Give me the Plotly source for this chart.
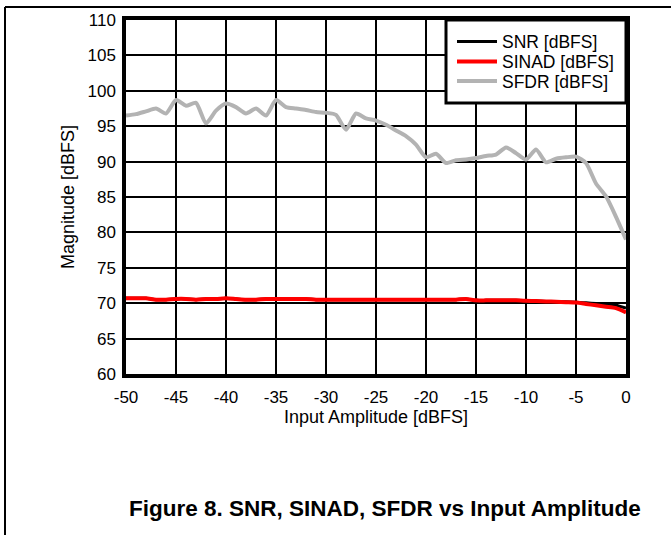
import plotly.graph_objects as go

# ---------------- data ----------------
amp = [-50, -49, -48, -47, -46, -45, -44, -43, -42, -41, -40, -39, -38, -37, -36,
       -35, -34, -33, -32, -31, -30, -29, -28, -27, -26, -25, -24, -23, -22, -21,
       -20, -19, -18, -17, -16, -15, -14, -13, -12, -11, -10, -9, -8, -7, -6,
       -5, -4, -3, -2, -1, 0]

snr = [70.7, 70.7, 70.7, 70.5, 70.5, 70.6, 70.6, 70.5, 70.6, 70.6, 70.7, 70.6, 70.5,
       70.5, 70.6, 70.6, 70.6, 70.6, 70.6, 70.5, 70.5, 70.5, 70.5, 70.5, 70.5, 70.5,
       70.5, 70.5, 70.5, 70.5, 70.5, 70.5, 70.5, 70.5, 70.6, 70.4, 70.4, 70.4, 70.4,
       70.4, 70.35, 70.3, 70.25, 70.2, 70.2, 70.15, 70.05, 69.95, 69.85, 69.7, 69.3]

sinad = [70.7, 70.7, 70.7, 70.5, 70.5, 70.6, 70.6, 70.5, 70.6, 70.6, 70.7, 70.6, 70.5,
         70.5, 70.6, 70.6, 70.6, 70.6, 70.6, 70.5, 70.5, 70.5, 70.5, 70.5, 70.5, 70.5,
         70.5, 70.5, 70.5, 70.5, 70.5, 70.5, 70.5, 70.5, 70.6, 70.4, 70.4, 70.4, 70.4,
         70.4, 70.35, 70.3, 70.25, 70.2, 70.15, 70.1, 69.9, 69.7, 69.5, 69.3, 68.7]

sfdr = [96.5, 96.7, 97.1, 97.5, 96.8, 98.7, 97.9, 98.3, 95.4, 97.2, 98.2, 97.7, 96.8,
        97.5, 96.5, 98.7, 97.7, 97.5, 97.3, 97.0, 96.9, 96.6, 94.5, 96.8, 96.1, 95.8,
        95.2, 94.4, 93.6, 92.4, 90.6, 91.1, 89.8, 90.2, 90.3, 90.5, 90.8, 91.0, 92.0,
        91.2, 90.3, 91.7, 89.9, 90.4, 90.6, 90.7, 89.8, 86.9, 85.1, 82.2, 79.0]

series_names = ["SNR [dBFS]", "SINAD [dBFS]", "SFDR [dBFS]"]
x_ticks = [-50, -45, -40, -35, -30, -25, -20, -15, -10, -5, 0]
y_ticks = [60, 65, 70, 75, 80, 85, 90, 95, 100, 105, 110]

# ---------------- layout geometry (pixels) ----------------
W, H = 671, 535
PL, PR, PT, PB = 126, 626, 20, 374   # plot area edges


def px(xp):
    return (xp - PL) / (PR - PL)


def py(yp):
    return (PB - yp) / (PB - PT)


FONT = "Liberation Sans, Arial, sans-serif"
TICK_SIZE = 17
TITLE_SIZE = 18
LEG_SIZE = 17.5

fig = go.Figure()
fig.add_trace(go.Scatter(x=amp, y=snr, name=series_names[0], mode="lines", legend="legend",
                         line=dict(color="black", width=3, shape="spline", smoothing=0.6)))
fig.add_trace(go.Scatter(x=amp, y=sinad, name=series_names[1], mode="lines", legend="legend2",
                         line=dict(color="#ff0000", width=4, shape="spline", smoothing=0.6)))
fig.add_trace(go.Scatter(x=amp, y=sfdr, name=series_names[2], mode="lines", legend="legend3",
                         line=dict(color="#b3b3b3", width=4, shape="spline", smoothing=0.6)))

axis_common = dict(
    showgrid=True, gridcolor="black", gridwidth=2,
    showline=True, linecolor="black", linewidth=3.5, mirror=True,
    zeroline=False, ticks="", tickfont=dict(family=FONT, size=TICK_SIZE, color="black"),
    title_font=dict(family=FONT, size=TITLE_SIZE, color="black"),
)

fig.update_xaxes(range=[-50, 0], tickvals=x_ticks, ticktext=[str(v) for v in x_ticks],
                 title_text="Input Amplitude [dBFS]", title_standoff=0,
                 ticklabelstandoff=5, **axis_common)
fig.update_yaxes(range=[60, 110], tickvals=y_ticks, ticktext=[str(v) for v in y_ticks],
                 title_text="Magnitude [dBFS]", title_standoff=9,
                 ticklabelstandoff=3, **axis_common)

shapes = [
    # legend frame
    dict(type="rect", xref="paper", yref="paper", x0=px(446), x1=px(626),
         y0=py(103), y1=py(20), line=dict(color="black", width=3),
         fillcolor="white", layer="above"),
    # outer figure frame (top and left)
    dict(type="line", xref="paper", yref="paper", x0=px(5), x1=px(W + 5),
         y0=py(7), y1=py(7), line=dict(color="black", width=2)),
    dict(type="line", xref="paper", yref="paper", x0=px(5), x1=px(5),
         y0=py(7), y1=py(H + 5), line=dict(color="black", width=2)),
]

leg_common = dict(x=px(452), xanchor="left", yanchor="middle",
                  bgcolor="rgba(0,0,0,0)", borderwidth=0,
                  font=dict(family=FONT, size=LEG_SIZE, color="black"),
                  itemwidth=40)

fig.update_layout(
    width=W, height=H,
    margin=dict(l=PL, r=W - PR, t=PT, b=H - PB, pad=0),
    paper_bgcolor="white", plot_bgcolor="white",
    font=dict(family=FONT, size=16, color="black"),
    shapes=shapes,
    showlegend=True,
    legend=dict(y=py(41.5), **leg_common),
    legend2=dict(y=py(61.5), **leg_common),
    legend3=dict(y=py(81), **leg_common),
    annotations=[
        dict(text="<b>Figure 8. SNR, SINAD, SFDR vs Input Amplitude</b>",
             xref="paper", yref="paper", x=px(385), y=py(508),
             xanchor="center", yanchor="middle", showarrow=False,
             font=dict(family=FONT, size=22.5, color="black")),
    ],
)

fig.write_html("out.html", config={"displayModeBar": False},
               post_script="document.body.style.margin='0px';")
